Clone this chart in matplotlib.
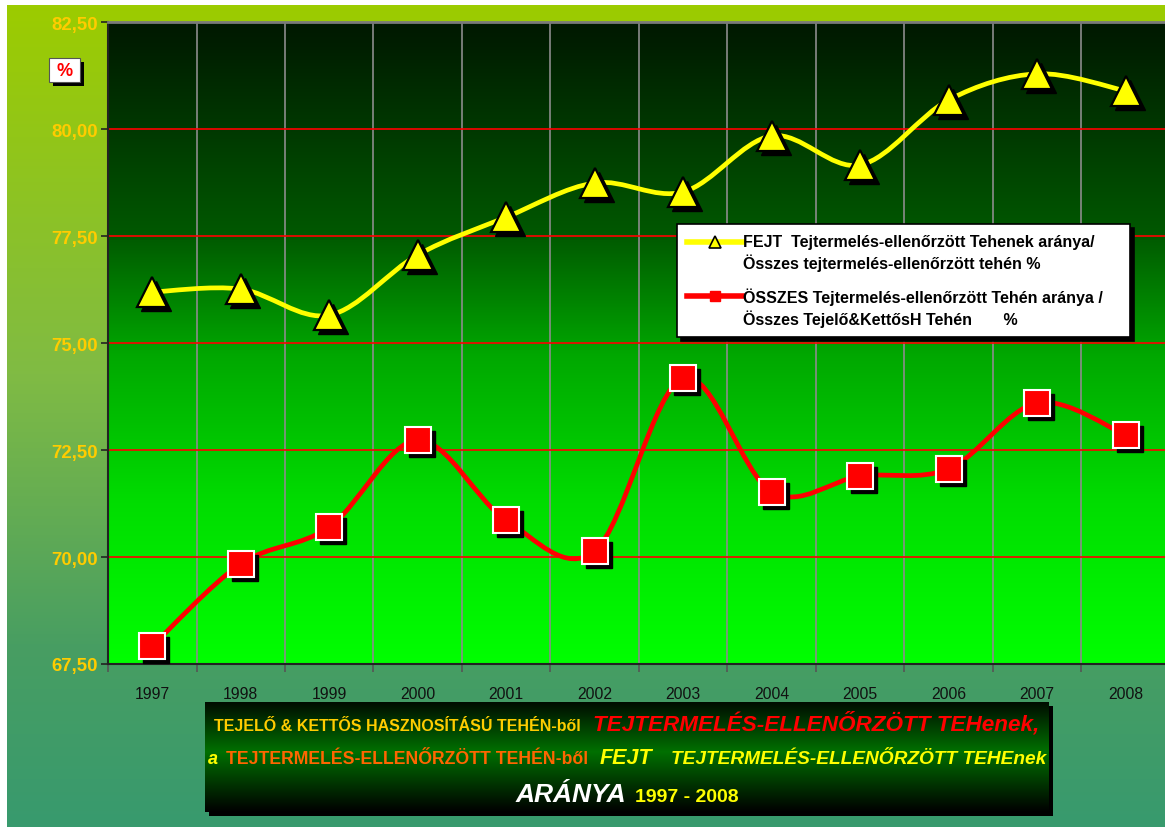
import numpy as np
import matplotlib
matplotlib.use("Agg")
import matplotlib.pyplot as plt
from matplotlib.path import Path
from matplotlib.patches import PathPatch, Rectangle
from matplotlib.lines import Line2D
from matplotlib.colors import LinearSegmentedColormap
from matplotlib.legend_handler import HandlerLine2D
from matplotlib import transforms, font_manager

years = ["1997", "1998", "1999", "2000", "2001", "2002",
         "2003", "2004", "2005", "2006", "2007", "2008"]
fejt = [76.19, 76.26, 75.65, 77.06, 77.94, 78.74, 78.53, 79.84, 79.16, 80.68, 81.29, 80.89]
osszes = [67.92, 69.84, 70.70, 72.73, 70.86, 70.14, 74.18, 71.52, 71.89, 72.06, 73.60, 72.85]
y_ticks = [67.5, 70.0, 72.5, 75.0, 77.5, 80.0, 82.5]

label_fejt = "FEJT  Tejtermelés-ellenőrzött Tehenek aránya/\nÖsszes tejtermelés-ellenőrzött tehén %"
label_osszes = "ÖSSZES Tejtermelés-ellenőrzött Tehén aránya /\nÖsszes Tejelő&KettősH Tehén       %"

# fonts: the chart itself uses a narrow face, the title box a normal one
names = {f.name for f in font_manager.fontManager.ttflist}
if "Liberation Sans Narrow" in names:
    NARROW, NS = "Liberation Sans Narrow", 1.0
else:
    NARROW, NS = "Liberation Sans", 0.84
plt.rcParams['font.family'] = ['Liberation Sans', 'DejaVu Sans']

W, H = 1165, 828
fig = plt.figure(figsize=(W / 100, H / 100), dpi=100)
fig.patch.set_facecolor("white")


def fx(x):
    return x / W


def fy(y):
    return 1 - y / H


grad = np.linspace(0, 1, 256).reshape(-1, 1)

# figure background gradient
bg = fig.add_axes([fx(7), 0, 1 - fx(7), fy(6)], zorder=-10)
bg_cmap = LinearSegmentedColormap.from_list(
    "bg", [(0, "#9ccc00"), (0.45, "#80bb44"), (0.78, "#489e62"), (1, "#389a6e")])
bg.imshow(grad, cmap=bg_cmap, aspect="auto", extent=[0, 1, 0, 1])
bg.axis("off")

# plot area
L, R, T, B = 108, 1170, 23, 665
ax = fig.add_axes([fx(L), fy(B), (R - L) / W, (B - T) / H])
plot_cmap = LinearSegmentedColormap.from_list(
    "pa", [(0, "#001800"), (0.33, "#005800"), (0.52, "#00a800"), (0.75, "#00dd00"), (1, "#00ff00")])
ax.imshow(grad, cmap=plot_cmap, aspect="auto", extent=[-0.5, 11.5, 67.5, 82.5], zorder=0)
ax.set_xlim(-0.5, 11.5)
ax.set_ylim(67.5, 82.5)

ax.spines["right"].set_visible(False)
ax.spines["top"].set_color("#7a7a7a")
ax.spines["top"].set_linewidth(2)
ax.spines["left"].set_color("#222222")
ax.spines["left"].set_linewidth(1.5)
ax.spines["bottom"].set_color("#222222")
ax.spines["bottom"].set_linewidth(1.5)

ax.set_yticks(y_ticks)
ax.set_yticklabels([f"{v:.2f}".replace(".", ",") for v in y_ticks],
                   color="#ffcc00", fontsize=16 * NS, fontweight="bold", family=NARROW)
ax.tick_params(axis="y", direction="out", length=5, width=1.2, color="#222222", pad=2)

x = np.arange(len(years))
ax.set_xticks(x)
ax.set_xticklabels(years, fontsize=13.5 * NS, color="#111111", family=NARROW)
ax.set_xticks(np.arange(-0.5, 12, 1), minor=True)
ax.tick_params(axis="x", which="major", length=0, pad=16)
ax.tick_params(axis="x", which="minor", direction="out", length=6, width=1.2, color="#555555")

ax.grid(axis="x", which="minor", color="#8c8c8c", lw=1.2, zorder=1)
ax.grid(axis="y", which="major", color="#ff0000", lw=1.2, zorder=1)


def smooth_path(xs, ys):
    # Excel-style smoothed line: cubic Bezier through the data points
    pts = np.column_stack([xs, ys]).astype(float)
    p = np.vstack([pts[0], pts, pts[-1]])
    verts = [pts[0]]
    codes = [Path.MOVETO]
    for i in range(len(pts) - 1):
        p0, p1, p2, p3 = p[i], p[i + 1], p[i + 2], p[i + 3]
        verts += [p1 + (p2 - p0) / 6, p2 - (p3 - p1) / 6, p2]
        codes += [Path.CURVE4] * 3
    return Path(verts, codes)


ax.add_patch(PathPatch(smooth_path(x, fejt), fill=False, edgecolor="#ffff00", lw=3.4,
                       capstyle="round", zorder=3))
ax.add_patch(PathPatch(smooth_path(x, osszes), fill=False, edgecolor="#ff0000", lw=3.4,
                       capstyle="round", zorder=3))

shadow = ax.transData + transforms.ScaledTranslation(4 / 100, -4 / 100, fig.dpi_scale_trans)
ax.plot(x, fejt, ls="none", marker="^", ms=22, mfc="black", mec="black", transform=shadow, zorder=4)
ax.plot(x, fejt, ls="none", marker="^", ms=22, mfc="#ffff00", mec="black", mew=1.6, zorder=5)
ax.plot(x, osszes, ls="none", marker="s", ms=18.5, mfc="black", mec="black", transform=shadow, zorder=4)
ax.plot(x, osszes, ls="none", marker="s", ms=18.5, mfc="#ff0000", mec="white", mew=1.5, zorder=5)


class TopLineHandler(HandlerLine2D):
    # put the legend key next to the first line of a two-line label
    def create_artists(self, legend, orig_handle, xdescent, ydescent, width, height,
                       fontsize, trans):
        arts = super().create_artists(legend, orig_handle, xdescent, ydescent, width, height,
                                      fontsize, trans)
        for a in arts:
            a.set_ydata(np.asarray(a.get_ydata(), dtype=float) + 8)
        return arts


h1 = Line2D([], [], color="#ffff00", lw=4, marker="^", ms=8, mfc="#ffff00", mec="black", mew=1.2)
h2 = Line2D([], [], color="#ff0000", lw=4, marker="s", ms=7, mfc="#ff0000", mec="#ff0000")
lx0 = (677 - L) / (R - L)
lx1 = (1130 - L) / (R - L)
ly0 = 1 - (333 - T) / (B - T)
ly1 = 1 - (225 - T) / (B - T)
leg = ax.legend([h1, h2], [label_fejt, label_osszes], loc="upper left",
                bbox_to_anchor=(lx0, ly0, lx1 - lx0, ly1 - ly0), mode="expand",
                borderaxespad=0, frameon=True, fancybox=False, framealpha=1,
                borderpad=0.65, handlelength=3.4, handletextpad=0.1, labelspacing=1.0,
                handler_map={Line2D: TopLineHandler()},
                prop={"family": NARROW, "weight": "bold", "size": 12 * NS * 1.14},
                shadow={"ox": 3, "oy": -3, "facecolor": "black", "edgecolor": "black", "alpha": 1})
leg.get_frame().set_edgecolor("black")
leg.get_frame().set_linewidth(1.2)
for t in leg.get_texts():
    t.set_linespacing(1.3)
leg.set_zorder(10)

# "%" box
fig.add_artist(Rectangle((fx(53), fy(87)), 31 / W, 24 / H, transform=fig.transFigure,
                         facecolor="black", edgecolor="none"))
fig.add_artist(Rectangle((fx(49), fy(83)), 31 / W, 24 / H, transform=fig.transFigure,
                         facecolor="white", edgecolor="#555555", lw=0.8))
fig.text(fx(65), fy(71), "%", color="#ff0000", fontsize=13, fontweight="bold",
         ha="center", va="center")

# title box
BX0, BX1, BY0, BY1 = 205, 1049, 703, 813
fig.add_artist(Rectangle((fx(BX0 + 4), fy(BY1 + 4)), (BX1 - BX0) / W, (BY1 - BY0) / H,
                         transform=fig.transFigure, facecolor="black", edgecolor="none",
                         zorder=-1))
tb = fig.add_axes([fx(BX0), fy(BY1), (BX1 - BX0) / W, (BY1 - BY0) / H], zorder=5)
tb_cmap = LinearSegmentedColormap.from_list(
    "tb", [(0, "#000c00"), (0.45, "#007000"), (1, "#000000")])
tb.imshow(grad, cmap=tb_cmap, aspect="auto", extent=[0, 1, 0, 1])
tb.axis("off")

title_lines = [
    (731, [("TEJELŐ & KETTŐS HASZNOSÍTÁSÚ TEHÉN-ből", "#ffcc00", 11.5, "normal", 0),
           ("TEJTERMELÉS-ELLENŐRZÖTT TEHenek,", "#ff0000", 16.2, "italic", 12)]),
    (764, [("a", "#ffff00", 13, "italic", 0),
           ("TEJTERMELÉS-ELLENŐRZÖTT TEHÉN-ből", "#ff6600", 12.7, "normal", 8),
           ("FEJT", "#ffff00", 15.5, "italic", 11),
           ("TEJTERMELÉS-ELLENŐRZÖTT TEHEnek", "#ffff00", 13.8, "italic", 19)]),
    (802, [("ARÁNYA", "#ffffff", 19, "italic", 0),
           ("1997 - 2008", "#ffff00", 14, "normal", 9)]),
]

renderer = fig.canvas.get_renderer()
center = (BX0 + BX1) / 2
for y_px, pieces in title_lines:
    texts, widths, gaps = [], [], []
    for s, color, size, style, gap in pieces:
        t = fig.text(0, fy(y_px), s, color=color, fontsize=size, fontstyle=style,
                     fontweight="bold", ha="left", va="baseline", zorder=20)
        texts.append(t)
        widths.append(t.get_window_extent(renderer).width)
        gaps.append(gap)
    total = sum(widths) + sum(gaps)
    xp = center - total / 2
    for t, w, g in zip(texts, widths, gaps):
        xp += g
        t.set_x(fx(xp))
        xp += w

fig.savefig("out.png", dpi=100)
